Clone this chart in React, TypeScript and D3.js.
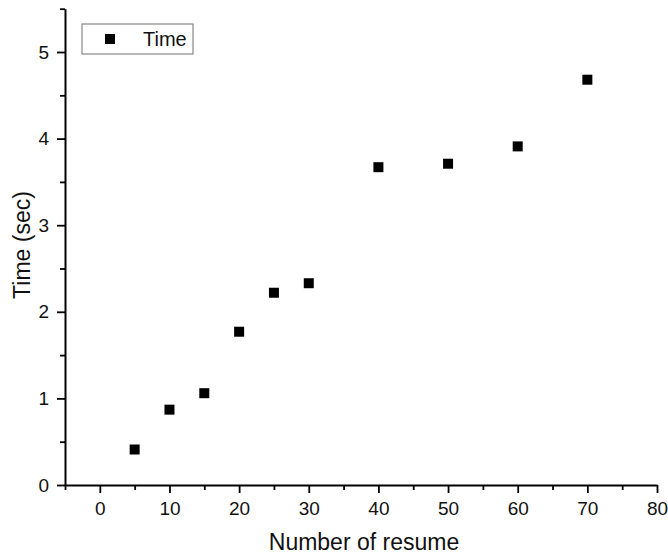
import React, { useEffect, useRef } from "react";
import * as d3 from "d3";

const resumeCounts = [5, 10, 15, 20, 25, 30, 40, 50, 60, 70];
const timeSec = [0.41, 0.87, 1.06, 1.77, 2.22, 2.33, 3.67, 3.71, 3.91, 4.68];
const xTicks = [0, 10, 20, 30, 40, 50, 60, 70, 80];
const yTicks = [0, 1, 2, 3, 4, 5];
const seriesName = "Time";

const App = () => {
  const svgRef = useRef<SVGSVGElement>(null);
  const width = 668;
  const height = 556;

  useEffect(() => {
    const svg = d3.select(svgRef.current);
    svg.selectAll("*").remove();

    const font = "'Liberation Sans', Arial, sans-serif";
    const x = d3.scaleLinear().domain([-5, 80]).range([65, 657]);
    const y = d3.scaleLinear().domain([0, 5.5]).range([485, 8.7]);

    // minor ticks first, major on top
    const xMinor = d3.range(-5, 81, 5).filter((v) => v % 10 !== 0);
    const yMinor = d3.range(0.5, 5.6, 1);

    const xAxisG = svg.append("g").attr("transform", `translate(0, ${y(0)})`);
    xAxisG
      .call(d3.axisBottom(x).tickValues(xMinor).tickSize(5).tickFormat(() => ""))
      .call((g) => g.select(".domain").remove());
    const xMajor = svg.append("g").attr("transform", `translate(0, ${y(0)})`);
    xMajor.call(
      d3.axisBottom(x).tickValues(xTicks).tickSize(8).tickPadding(9).tickSizeOuter(0).tickFormat(d3.format("d"))
    );

    const yAxisG = svg.append("g").attr("transform", `translate(${x(-5)}, 0)`);
    yAxisG
      .call(d3.axisLeft(y).tickValues(yMinor).tickSize(5).tickFormat(() => ""))
      .call((g) => g.select(".domain").remove());
    const yMajor = svg.append("g").attr("transform", `translate(${x(-5)}, 0)`);
    yMajor.call(
      d3.axisLeft(y).tickValues(yTicks).tickSize(8).tickPadding(8).tickSizeOuter(0).tickFormat(d3.format("d"))
    );

    svg
      .selectAll(".domain")
      .attr("stroke", "#000")
      .attr("stroke-width", 2);
    svg.selectAll(".tick line").attr("stroke", "#000").attr("stroke-width", 1.8);
    svg
      .selectAll(".tick text")
      .attr("fill", "#111")
      .style("font-family", font)
      .style("font-size", "19px");

    // data markers
    svg
      .append("g")
      .selectAll("rect")
      .data(resumeCounts)
      .enter()
      .append("rect")
      .attr("x", (d) => x(d) - 5)
      .attr("y", (d, i) => y(timeSec[i]) - 5)
      .attr("width", 10)
      .attr("height", 10)
      .attr("fill", "#000");

    // axis titles
    svg
      .append("text")
      .attr("x", (x(-5) + x(80)) / 2 + 3)
      .attr("y", 550)
      .attr("text-anchor", "middle")
      .style("font-family", font)
      .style("font-size", "23px")
      .attr("fill", "#111")
      .text("Number of resume");

    svg
      .append("text")
      .attr("transform", `translate(30, ${245}) rotate(-90)`)
      .attr("text-anchor", "middle")
      .style("font-family", font)
      .style("font-size", "23px")
      .attr("fill", "#111")
      .text("Time (sec)");

    // legend
    const legend = svg.append("g");
    legend
      .append("rect")
      .attr("x", 82)
      .attr("y", 24)
      .attr("width", 111)
      .attr("height", 30)
      .attr("fill", "#fff")
      .attr("stroke", "#888")
      .attr("stroke-width", 1.2);
    legend
      .append("rect")
      .attr("x", 105)
      .attr("y", 34)
      .attr("width", 10)
      .attr("height", 10)
      .attr("fill", "#000");
    legend
      .append("text")
      .attr("x", 143)
      .attr("y", 46)
      .style("font-family", font)
      .style("font-size", "20px")
      .attr("fill", "#111")
      .text(seriesName);
  }, []);

  return (
    <svg
      ref={svgRef}
      width={width}
      height={height}
      style={{ position: "absolute", left: 0, top: 0, background: "#fff" }}
    ></svg>
  );
};

export default App;
